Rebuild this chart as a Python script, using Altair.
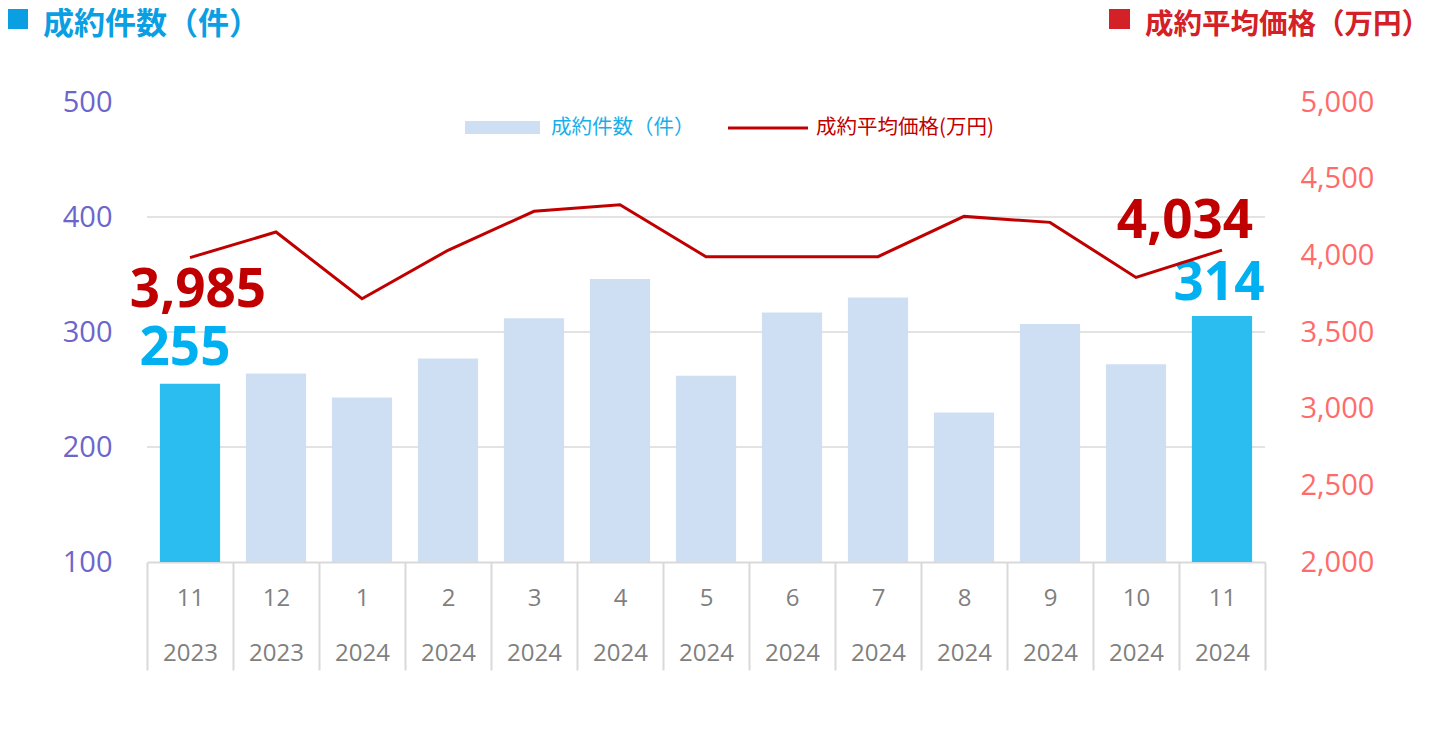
import altair as alt
import pandas as pd

months = ["11", "12", "1", "2", "3", "4", "5", "6", "7", "8", "9", "10", "11"]
years = ["2023", "2023", "2024", "2024", "2024", "2024", "2024", "2024", "2024", "2024", "2024", "2024", "2024"]
counts = [255, 264, 243, 277, 312, 346, 262, 317, 330, 230, 307, 272, 314]
prices = [3985, 4152, 3717, 4033, 4287, 4330, 3991, 3991, 3991, 4254, 4215, 3856, 4034]
highlight = ["y", "n", "n", "n", "n", "n", "n", "n", "n", "n", "n", "n", "y"]
left_ticks = [100, 200, 300, 400, 500]
grid_values = [200, 300, 400]
right_ticks = [2000, 2500, 3000, 3500, 4000, 4500, 5000]

title_left = "成約件数（件）"
title_right = "成約平均価格（万円）"
legend_bar = "成約件数（件）"
legend_line = "成約平均価格(万円)"

cats = [f"{m}|{y}" for m, y in zip(months, years)]
df = pd.DataFrame({"cat": cats, "count": counts, "price": prices, "hl": highlight, "i": list(range(len(cats)))})
grid_df = pd.DataFrame({"v": grid_values})

NUM_FONT = "Open Sans"
CJK_FONT = "Noto Sans CJK JP"

xscale = alt.Scale(paddingInner=0, paddingOuter=0)
x_axis = alt.Axis(
    title=None, labelExpr="split(datum.label, '|')", labelAngle=0, labelOverlap=False,
    labelFont=NUM_FONT, labelFontSize=24, labelColor="#7F7F7F", labelLineHeight=55,
    labelBaseline="top", labelPadding=-84,
    ticks=True, tickBand="extent", tickSize=108, tickColor="#D9D9D9", tickWidth=2,
    domain=True, domainColor="#D9D9D9", domainWidth=2, grid=False,
)
x_enc = alt.X("cat:N", sort=cats, scale=xscale, axis=x_axis)

yl_scale = alt.Scale(domain=[100, 500], zero=False, nice=False)
yr_scale = alt.Scale(domain=[2000, 5000], zero=False, nice=False)

left_axis = alt.Axis(
    title=None, orient="left", values=left_ticks, labelFont=NUM_FONT, labelFontSize=29, labelColor="#6B66CC",
    labelPadding=35, ticks=False, domain=False, grid=False,
)
right_axis = alt.Axis(
    title=None, orient="right", values=right_ticks, labelExpr="format(datum.value, ',')",
    labelFont=NUM_FONT, labelFontSize=29,
    labelColor="#FF6B6B", labelPadding=35, ticks=False, domain=False, grid=False,
)

yl_count = alt.Y("count:Q", scale=yl_scale, axis=left_axis)
yr_price = alt.Y("price:Q", scale=yr_scale, axis=right_axis)

base = alt.Chart(df)

grid = alt.Chart(grid_df).mark_rule(color="#E3E3E3", strokeWidth=2).encode(
    y=alt.Y("v:Q", scale=yl_scale, axis=left_axis)
)

bars = base.mark_bar(width=alt.RelativeBandSize(0.7)).encode(
    x=x_enc,
    y=yl_count,
    y2=alt.Y2(datum=100),
    color=alt.Color("hl:N", scale=alt.Scale(domain=["y", "n"], range=["#2BBDF0", "#CFDFF3"]), legend=None),
)

bar_lab_first = base.transform_filter("datum.i == 0").mark_text(
    font=NUM_FONT, fontSize=53, fontWeight="bold", color="#00B0F0", baseline="middle", dx=-5, dy=-35
).encode(x=x_enc, y=yl_count, text=alt.Text("count:Q", format=","))

bar_lab_last = base.transform_filter("datum.i == 12").mark_text(
    font=NUM_FONT, fontSize=53, fontWeight="bold", color="#00B0F0", baseline="middle", dx=-3, dy=-32
).encode(x=x_enc, y=yl_count, text=alt.Text("count:Q", format=","))

left = alt.layer(grid, bars, bar_lab_first, bar_lab_last)

line = base.mark_line(color="#C00000", strokeWidth=3).encode(x=x_enc, y=yr_price)
line_lab_first = base.transform_filter("datum.i == 0").mark_text(
    font=NUM_FONT, fontSize=53, fontWeight="bold", color="#C00000", baseline="middle", dx=8, dy=33
).encode(x=x_enc, y=yr_price, text=alt.Text("price:Q", format=","))
line_lab_last = base.transform_filter("datum.i == 12").mark_text(
    font=NUM_FONT, fontSize=53, fontWeight="bold", color="#C00000", baseline="middle", dx=-37, dy=-28
).encode(x=x_enc, y=yr_price, text=alt.Text("price:Q", format=","))

right = alt.layer(line, line_lab_first, line_lab_last)

one = alt.Data(values=[{"a": 1}])
sq_left = alt.Chart(one).mark_rect(color="#0A9EE2").encode(
    x=alt.value(-139), x2=alt.value(-119), y=alt.value(-93), y2=alt.value(-73)
)
head_left = alt.Chart(one).mark_text(
    text=title_left, font=CJK_FONT, fontSize=31, fontWeight="bold", color="#0A9EE2", align="left", baseline="middle"
).encode(x=alt.value(-104), y=alt.value(-77))
sq_right = alt.Chart(one).mark_rect(color="#D42027").encode(
    x=alt.value(962), x2=alt.value(983), y=alt.value(-93), y2=alt.value(-73)
)
head_right = alt.Chart(one).mark_text(
    text=title_right, font=CJK_FONT, fontSize=28.5, fontWeight="bold", color="#D42027", align="left", baseline="middle"
).encode(x=alt.value(998), y=alt.value(-77))
leg_rect = alt.Chart(one).mark_rect(color="#CFDFF3").encode(
    x=alt.value(318), x2=alt.value(393), y=alt.value(19), y2=alt.value(32)
)
leg_text1 = alt.Chart(one).mark_text(
    text=legend_bar, font=CJK_FONT, fontSize=20.5, color="#1AAEE8", align="left", baseline="middle"
).encode(x=alt.value(404), y=alt.value(26))
leg_line = alt.Chart(one).mark_rule(color="#C00000", strokeWidth=3).encode(
    x=alt.value(581), x2=alt.value(661), y=alt.value(26)
)
leg_text2 = alt.Chart(one).mark_text(
    text=legend_line, font=CJK_FONT, fontSize=20.5, color="#C00000", align="left", baseline="middle"
).encode(x=alt.value(669), y=alt.value(26))

annot = alt.layer(sq_left, head_left, sq_right, head_right, leg_rect, leg_text1, leg_line, leg_text2)

chart = alt.layer(left, right, annot).resolve_scale(y="independent").properties(
    width=1118, height=460, background="white",
    padding={"left": 139, "top": 94, "right": 167, "bottom": 160},
    autosize=alt.AutoSizeParams(type="none"),
).configure_view(stroke=None)

chart.save("out.html", embed_options={"renderer": "svg", "actions": False})
